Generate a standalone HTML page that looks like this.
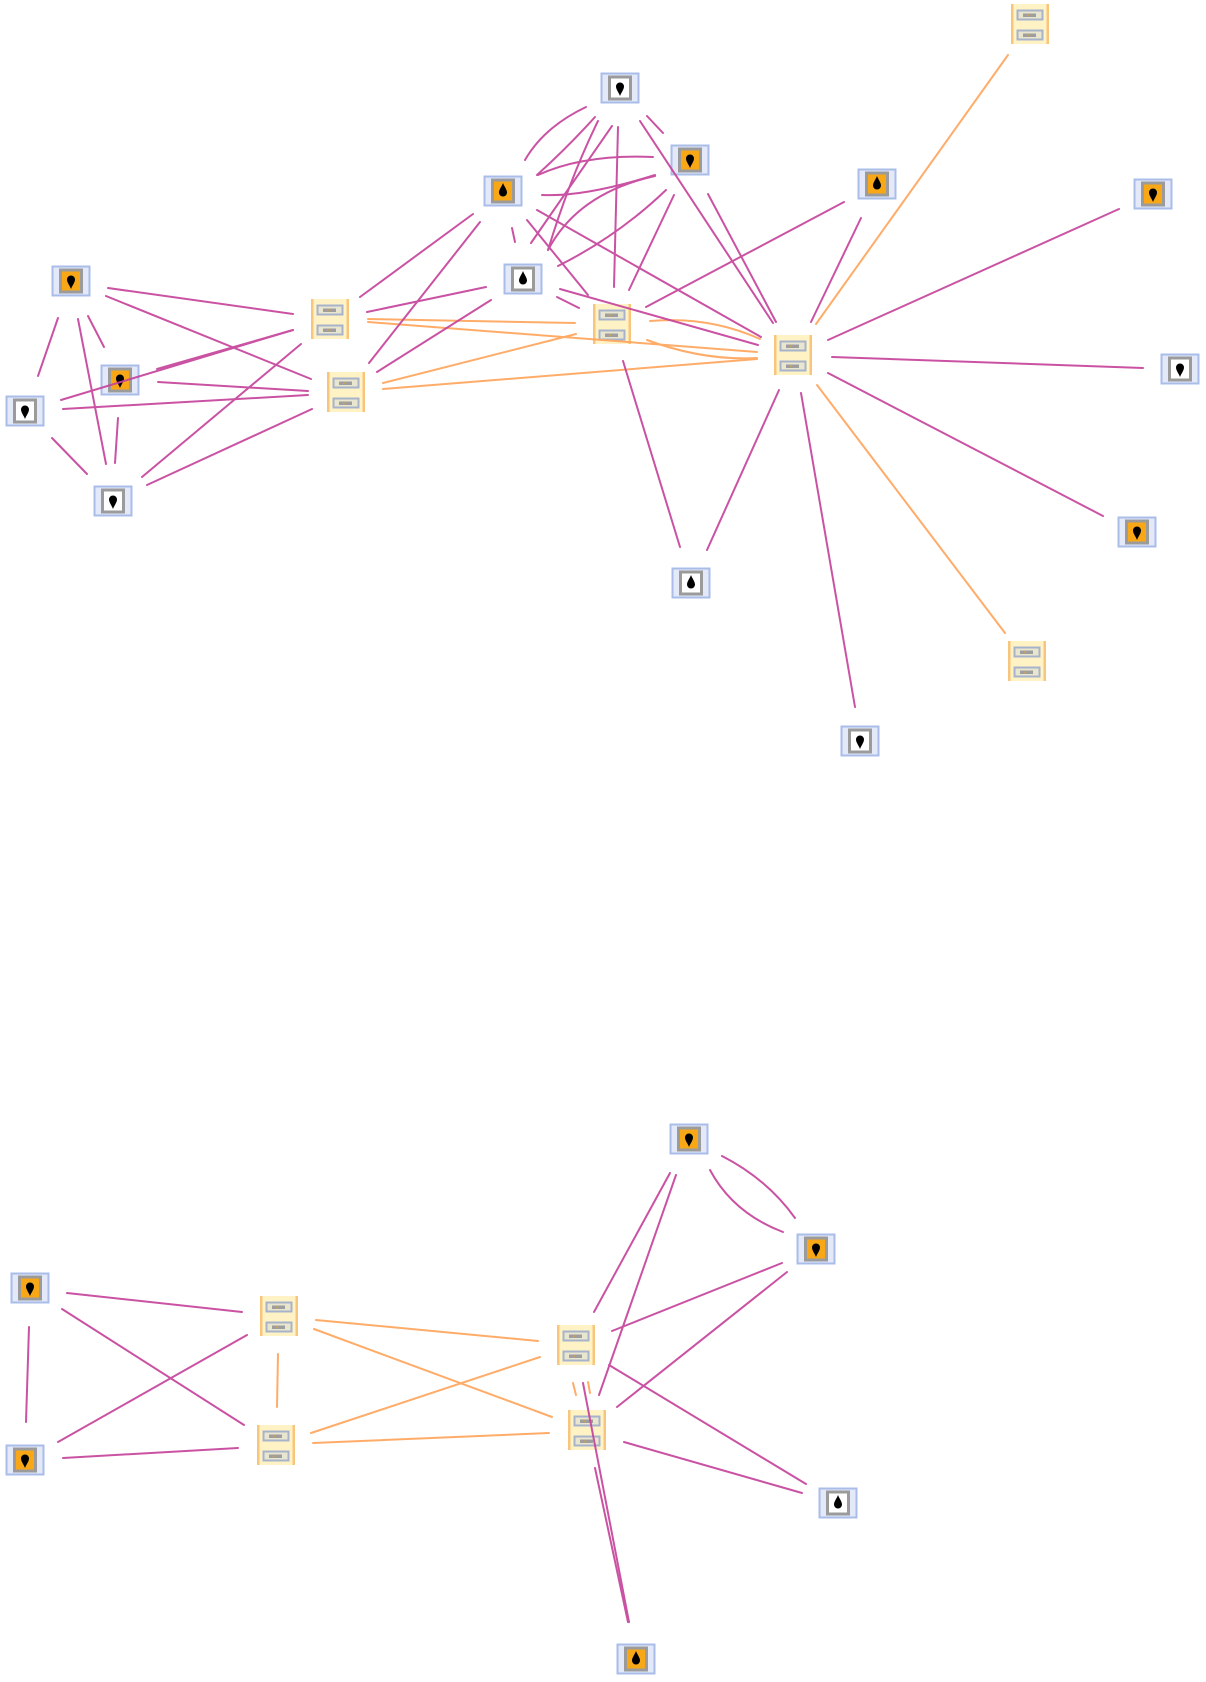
<!DOCTYPE html>
<html><head><meta charset="utf-8"><style>
html,body{margin:0;padding:0;background:#fff;}
svg{display:block;}
</style></head><body>
<svg width="1206" height="1682" viewBox="0 0 1206 1682" xmlns="http://www.w3.org/2000/svg">
<defs>
<g id="devO">
<rect x="-18.5" y="-14.5" width="37" height="29" fill="#e3e9f8" stroke="#aabde9" stroke-width="2"/>
<rect x="-10.5" y="-11" width="21" height="22" fill="#f8a817" stroke="#9b9b9b" stroke-width="3"/>
</g>
<g id="devW">
<rect x="-18.5" y="-14.5" width="37" height="29" fill="#e3e9f8" stroke="#aabde9" stroke-width="2"/>
<rect x="-10.5" y="-11" width="21" height="22" fill="#ffffff" stroke="#9b9b9b" stroke-width="3"/>
</g>
<path id="pinD" d="M0,7 C-1,4 -4,0.5 -4,-2.5 A4,4 0 0 1 4,-2.5 C4,0.5 1,4 0,7 Z" fill="#000"/>
<path id="pinU" d="M0,-7 C1,-4 4,-0.5 4,2.5 A4,4 0 0 1 -4,2.5 C-4,-0.5 -1,-4 0,-7 Z" fill="#000"/>
<g id="srv">
<rect x="-19" y="-20" width="38" height="40" fill="#fff3c6"/>
<rect x="-19" y="-20" width="2.5" height="40" fill="#f8c57c"/>
<rect x="16.5" y="-20" width="2.5" height="40" fill="#f8c57c"/>
<rect x="-12.5" y="-13.5" width="25" height="9" fill="#e9e6cf" stroke="#a7b3cb" stroke-width="2"/>
<rect x="-7" y="-10.5" width="13" height="3.5" fill="#9e9e9e"/>
<circle cx="-2" cy="-8.8" r="0.8" fill="#f0a020"/>
<rect x="-12.5" y="6.5" width="25" height="9" fill="#e9e6cf" stroke="#a7b3cb" stroke-width="2"/>
<rect x="-7" y="9.5" width="13" height="3.5" fill="#9e9e9e"/>
<circle cx="-2" cy="11.2" r="0.8" fill="#f0a020"/>
</g>
</defs>

<!-- Nodes: servers -->
<use href="#srv" x="1030" y="24"/>
<use href="#srv" x="330" y="319"/>
<use href="#srv" x="346" y="392"/>
<use href="#srv" x="612" y="324"/>
<use href="#srv" x="793" y="355"/>
<use href="#srv" x="1027" y="661"/>
<use href="#srv" x="279" y="1316"/>
<use href="#srv" x="276" y="1445"/>
<use href="#srv" x="576" y="1345"/>
<use href="#srv" x="587" y="1430"/>

<!-- Nodes: devices -->
<use href="#devW" x="620" y="88"/><use href="#pinD" x="620" y="89"/>
<use href="#devO" x="690" y="160"/><use href="#pinD" x="690" y="161"/>
<use href="#devO" x="503" y="191"/><use href="#pinU" x="503" y="190"/>
<use href="#devO" x="877" y="184"/><use href="#pinU" x="877" y="183"/>
<use href="#devO" x="1153" y="194"/><use href="#pinD" x="1153" y="195"/>
<use href="#devW" x="523" y="279"/><use href="#pinU" x="523" y="278"/>
<use href="#devO" x="71" y="281"/><use href="#pinD" x="71" y="282"/>
<use href="#devO" x="120" y="380"/><use href="#pinD" x="120" y="381"/>
<use href="#devW" x="25" y="411"/><use href="#pinD" x="25" y="412"/>
<use href="#devW" x="113" y="501"/><use href="#pinD" x="113" y="502"/>
<use href="#devW" x="1180" y="369"/><use href="#pinD" x="1180" y="370"/>
<use href="#devO" x="1137" y="532"/><use href="#pinD" x="1137" y="533"/>
<use href="#devW" x="691" y="583"/><use href="#pinU" x="691" y="582"/>
<use href="#devW" x="860" y="741"/><use href="#pinD" x="860" y="742"/>

<use href="#devO" x="30" y="1288"/><use href="#pinD" x="30" y="1289"/>
<use href="#devO" x="25" y="1460"/><use href="#pinD" x="25" y="1461"/>
<use href="#devO" x="689" y="1139"/><use href="#pinD" x="689" y="1140"/>
<use href="#devO" x="816" y="1249"/><use href="#pinD" x="816" y="1250"/>
<use href="#devW" x="838" y="1503"/><use href="#pinU" x="838" y="1502"/>
<use href="#devO" x="636" y="1659"/><use href="#pinU" x="636" y="1658"/>

<!-- Orange edges -->
<g stroke="#ffa862" stroke-width="2" fill="none" stroke-linecap="round" opacity="0.95">
<line x1="368" y1="319" x2="575" y2="323"/>
<line x1="368" y1="322" x2="757" y2="352"/>
<line x1="383" y1="383" x2="576" y2="334"/>
<line x1="383" y1="389" x2="757" y2="359"/>
<path d="M650,321 Q709,316 760,339"/>
<path d="M647,340 Q704,361 757,358"/>
<line x1="816" y1="324" x2="1008" y2="55"/>
<line x1="817" y1="385" x2="1005" y2="633"/>

<line x1="278" y1="1354" x2="277" y2="1407"/>
<line x1="316" y1="1320" x2="538" y2="1341"/>
<line x1="314" y1="1329" x2="552" y2="1417"/>
<line x1="311" y1="1433" x2="540" y2="1357"/>
<line x1="313" y1="1443" x2="549" y2="1433"/>
<line x1="573" y1="1383" x2="576" y2="1395"/>
<line x1="588" y1="1382" x2="590" y2="1393"/>
</g>

<!-- Magenta edges -->
<g stroke="#c6449c" stroke-width="2" fill="none" stroke-linecap="round" opacity="0.92">
<line x1="108" y1="288" x2="293" y2="314"/>
<line x1="106" y1="296" x2="311" y2="379"/>
<line x1="58" y1="318" x2="38" y2="376"/>
<line x1="78" y1="319" x2="106" y2="464"/>
<line x1="88" y1="316" x2="104" y2="347"/>
<line x1="61" y1="400" x2="293" y2="330"/>
<line x1="157" y1="369" x2="293" y2="330"/>
<line x1="158" y1="382" x2="308" y2="391"/>
<line x1="63" y1="409" x2="308" y2="395"/>
<line x1="52" y1="438" x2="87" y2="474"/>
<line x1="118" y1="418" x2="115" y2="463"/>
<line x1="142" y1="477" x2="301" y2="344"/>
<line x1="147" y1="485" x2="312" y2="409"/>
<line x1="360" y1="297" x2="473" y2="214"/>
<line x1="367" y1="312" x2="486" y2="287"/>
<line x1="369" y1="363" x2="480" y2="222"/>
<line x1="377" y1="372" x2="491" y2="300"/>

<line x1="618" y1="127" x2="614" y2="287"/>
<line x1="640" y1="121" x2="773" y2="323"/>
<line x1="647" y1="116" x2="663" y2="133"/>
<line x1="674" y1="195" x2="629" y2="290"/>
<line x1="708" y1="194" x2="776" y2="322"/>
<line x1="512" y1="228" x2="515" y2="242"/>
<line x1="527" y1="220" x2="588" y2="295"/>
<line x1="537" y1="210" x2="761" y2="337"/>
<line x1="557" y1="297" x2="579" y2="308"/>
<line x1="560" y1="289" x2="758" y2="345"/>
<line x1="646" y1="307" x2="844" y2="202"/>
<line x1="623" y1="361" x2="680" y2="547"/>
<line x1="811" y1="322" x2="861" y2="218"/>
<line x1="828" y1="340" x2="1119" y2="209"/>
<line x1="832" y1="357" x2="1143" y2="368"/>
<line x1="828" y1="373" x2="1103" y2="516"/>
<line x1="801" y1="393" x2="855" y2="707"/>
<line x1="779" y1="390" x2="707" y2="550"/>

<path d="M586,107 Q544,127 525,160"/>
<path d="M595,117 Q568,147 537,175"/>
<path d="M598,121 Q570,178 548,250"/>
<path d="M612,126 Q576,178 531,243"/>
<path d="M653,157 Q584,154 538,175"/>
<path d="M655,175 Q585,197 542,195"/>
<path d="M655,176 Q578,193 548,250"/>
<path d="M666,190 Q618,236 558,266"/>

<line x1="67" y1="1293" x2="242" y2="1312"/>
<line x1="62" y1="1309" x2="244" y2="1425"/>
<line x1="29" y1="1327" x2="26" y2="1422"/>
<line x1="58" y1="1442" x2="247" y2="1335"/>
<line x1="63" y1="1458" x2="238" y2="1448"/>
<line x1="670" y1="1173" x2="594" y2="1312"/>
<line x1="676" y1="1175" x2="599" y2="1395"/>
<path d="M722,1156 Q767,1179 795,1218"/>
<path d="M710,1170 Q733,1213 783,1232"/>
<line x1="782" y1="1263" x2="612" y2="1331"/>
<line x1="787" y1="1272" x2="617" y2="1407"/>
<line x1="609" y1="1365" x2="806" y2="1484"/>
<line x1="624" y1="1442" x2="802" y2="1493"/>
<line x1="583" y1="1383" x2="629" y2="1622"/>
<line x1="595" y1="1468" x2="628" y2="1622"/>
</g>
</svg>
</body></html>
